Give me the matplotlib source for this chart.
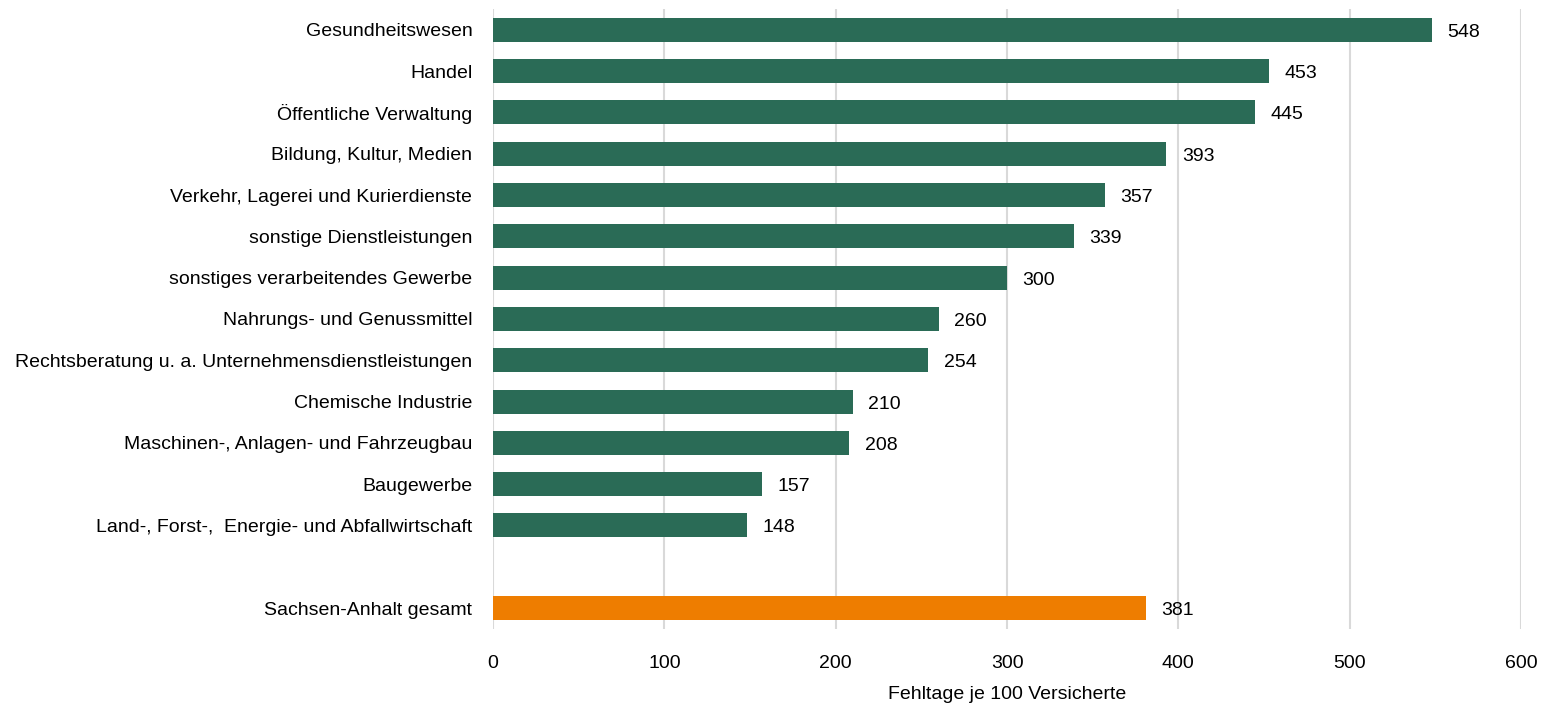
import matplotlib.pyplot as plt

plt.rcParams['font.family'] = ['Liberation Sans Narrow', 'Liberation Sans', 'DejaVu Sans']

branchen = [
    'Gesundheitswesen',
    'Handel',
    'Öffentliche Verwaltung',
    'Bildung, Kultur, Medien',
    'Verkehr, Lagerei und Kurierdienste',
    'sonstige Dienstleistungen',
    'sonstiges verarbeitendes Gewerbe',
    'Nahrungs- und Genussmittel',
    'Rechtsberatung u. a. Unternehmensdienstleistungen',
    'Chemische Industrie',
    'Maschinen-, Anlagen- und Fahrzeugbau',
    'Baugewerbe',
    'Land-, Forst-,  Energie- und Abfallwirtschaft',
]
fehltage = [548, 453, 445, 393, 357, 339, 300, 260, 254, 210, 208, 157, 148]
gesamt_label = 'Sachsen-Anhalt gesamt'
gesamt_wert = 381

GRUEN = '#2a6b56'
ORANGE = '#ee7d00'

fig = plt.figure(figsize=(15.41, 7.10), dpi=100)
ax = fig.add_axes([0.320, 0.1145, 0.667, 0.8725])

pos = list(range(len(branchen)))
pos_gesamt = len(branchen) + 1

ax.barh(pos, fehltage, height=0.58, color=GRUEN, zorder=2)
ax.barh([pos_gesamt], [gesamt_wert], height=0.58, color=ORANGE, zorder=2)

# Werte rechts neben den Balken
for p, v in zip(pos + [pos_gesamt], fehltage + [gesamt_wert]):
    ax.text(v + 9, p + 0.06, str(v), va='center', ha='left', fontsize=14, zorder=3)

ax.set_yticks(pos + [pos_gesamt])
ax.set_yticklabels(branchen + [gesamt_label], fontsize=14)
ax.set_ylim(pos_gesamt + 0.5, -0.5)

ax.set_xlim(0, 600)
ax.set_xticks(range(0, 601, 100))
ax.tick_params(axis='x', labelsize=14, length=0, pad=19)
ax.tick_params(axis='y', length=0, pad=15)
ax.set_xlabel('Fehltage je 100 Versicherte', fontsize=14)
ax.xaxis.set_label_coords(0.5, -0.093)

ax.grid(axis='x', color='#d9d9d9', linewidth=1.5, zorder=0)
ax.set_axisbelow(True)
for s in ax.spines.values():
    s.set_visible(False)

fig.savefig('out.png', dpi=100)
